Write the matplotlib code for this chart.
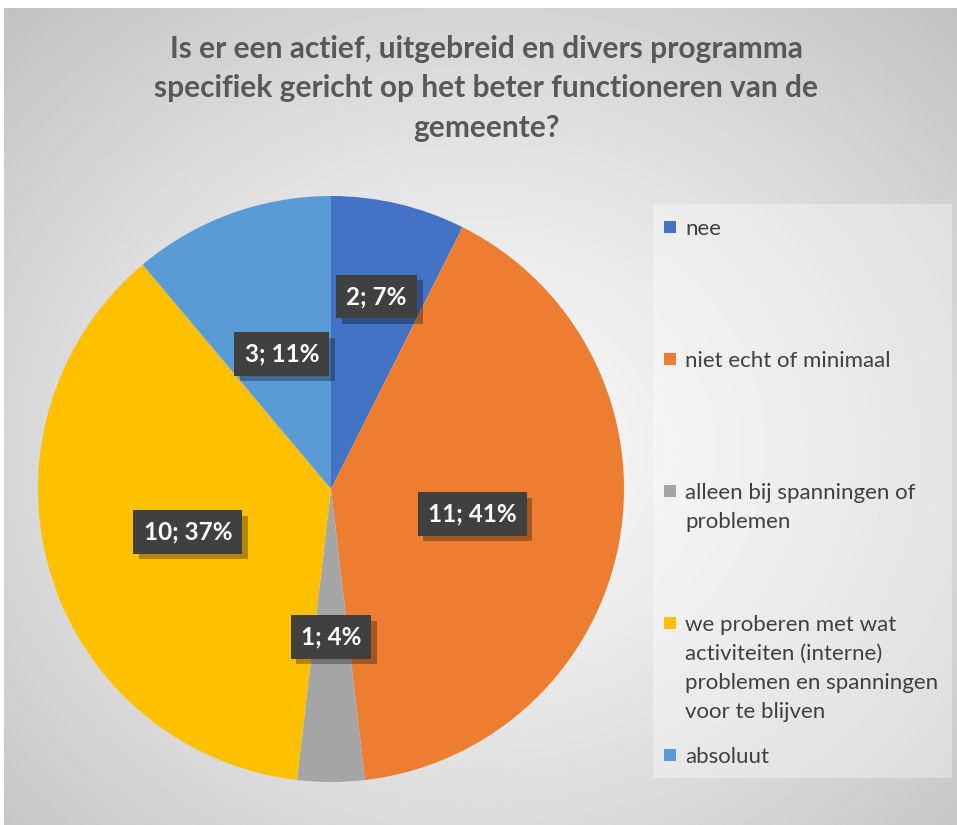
import matplotlib
matplotlib.use("Agg")
import matplotlib.pyplot as plt
import matplotlib.patches as patches
import matplotlib.patheffects as pe
import numpy as np

# --- data ---
categories = [
    "nee",
    "niet echt of minimaal",
    "alleen bij spanningen of\nproblemen",
    "we proberen met wat\nactiviteiten (interne)\nproblemen en spanningen\nvoor te blijven",
    "absoluut",
]
counts = [2, 11, 1, 10, 3]
colors = ["#4472C4", "#ED7D31", "#A5A5A5", "#FFC000", "#5B9BD5"]
label_dist = [0.675, 0.49, 0.505, 0.51, 0.49]
title = ("Is er een actief, uitgebreid en divers programma\n"
         "specifiek gericht op het beter functioneren van de\n"
         "gemeente?")

plt.rcParams["font.family"] = ["Lato", "DejaVu Sans"]

W, H = 957, 825
fig = plt.figure(figsize=(W / 100, H / 100), dpi=100)
fig.patch.set_facecolor("white")

# radial gradient background
bg = fig.add_axes([4 / W, 0, 1 - 4 / W, 1 - 8 / H])
yy, xx = np.mgrid[0:400, 0:480]
cx, cy = 240, 215
d = np.sqrt(((xx - cx) / 480) ** 2 + ((yy - cy) / 410) ** 2) / 0.72
val = 0.975 - 0.215 * np.clip(d, 0, 1) ** 1.3
bg.imshow(val, cmap="gray", vmin=0, vmax=1, aspect="auto",
          extent=[0, 1, 0, 1], interpolation="bilinear")
bg.set_axis_off()

# title
fig.text(486 / W, 1 - 35 / H, title, ha="center", va="top",
         fontsize=21.5, fontweight="bold", color="#595959", linespacing=1.5)

# pie
cxp, cyp, r = 331, 489, 293
ax = fig.add_axes([(cxp - r) / W, (H - cyp - r) / H, 2 * r / W, 2 * r / H])
wedges, _ = ax.pie(counts, colors=colors, startangle=90, counterclock=False,
                   radius=1, wedgeprops=dict(linewidth=0))
ax.set_xlim(-1, 1)
ax.set_ylim(-1, 1)
ax.set_axis_off()

total = sum(counts)
for w, n, rd in zip(wedges, counts, label_dist):
    ang = np.deg2rad((w.theta1 + w.theta2) / 2)
    x, y = rd * np.cos(ang), rd * np.sin(ang)
    t = ax.text(x, y, f"{n}; {round(100 * n / total)}%", ha="center",
                va="center", fontsize=17.5, fontweight="bold", color="white",
                bbox=dict(boxstyle="square,pad=0.42", facecolor="#404040",
                          linewidth=0))
    t.get_bbox_patch().set_path_effects(
        [pe.SimplePatchShadow(offset=(4, -4), shadow_rgbFace="black",
                              alpha=0.3), pe.Normal()])

# legend box
fig.patches.append(patches.Rectangle((653 / W, 1 - 778 / H), 299 / W, 574 / H,
                                     transform=fig.transFigure,
                                     facecolor="white", alpha=0.35,
                                     edgecolor="none"))
ys = np.linspace(227, 755, len(categories))
for lab, c, yc in zip(categories, colors, ys):
    fig.patches.append(patches.Rectangle((664 / W, 1 - (yc + 6) / H), 12 / W, 12 / H,
                                         transform=fig.transFigure,
                                         facecolor=c, edgecolor="none"))
    fig.text(685 / W, 1 - (yc - 8) / H, lab, ha="left", va="top",
             fontsize=16, color="#404040", linespacing=1.56)

fig.savefig("out.png", dpi=100)
